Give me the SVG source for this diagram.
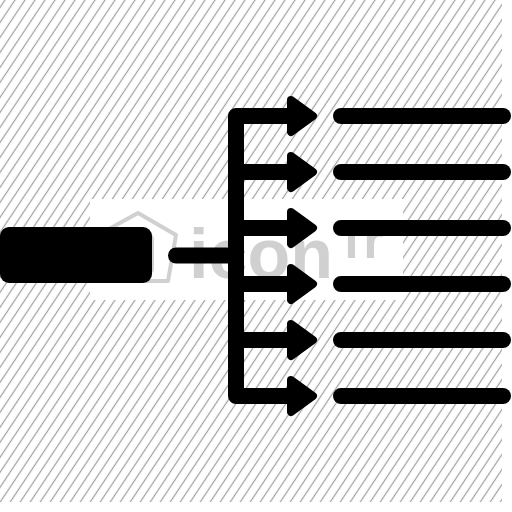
<svg xmlns="http://www.w3.org/2000/svg" width="512" height="512" viewBox="0 0 512 512">
  <defs>
    <pattern id="hatch" patternUnits="userSpaceOnUse" width="8.32" height="10" patternTransform="rotate(33.7)">
      <rect x="0" y="0" width="8.32" height="10" fill="#ffffff"/>
      <line x1="4.16" y1="-1" x2="4.16" y2="11" stroke="#a0a0a0" stroke-width="1.2"/>
    </pattern>
    <marker id="head" viewBox="0 0 40 40" refX="6" refY="20" markerWidth="40" markerHeight="40" markerUnits="userSpaceOnUse" orient="auto" overflow="visible">
      <polygon points="7,4 29,20 7,36" fill="#000" stroke="#000" stroke-width="8" stroke-linejoin="round"/>
    </marker>
  </defs>
  <style>
    .bar { stroke: #000; stroke-width: 16; stroke-linecap: round; fill: none; }
    .conn { stroke: #000; stroke-width: 16; fill: none; stroke-linejoin: round; }
    .wm { fill: #d0d0d0; font-family: "Liberation Sans", Arial, sans-serif; font-weight: bold; }
    .wmline { fill: none; stroke: #d0d0d0; stroke-width: 4; stroke-linejoin: round; }
  </style>
  <rect x="0" y="0" width="502" height="502" fill="url(#hatch)"/>
  <rect x="90" y="199" width="313" height="101" fill="#ffffff"/>
  <g id="watermark">
    <polygon class="wmline" points="138,213 176,235 168,281 106,281 98,235"/>
    <rect class="wmline" x="116" y="236" width="36" height="36" rx="3"/>
    <circle class="wmline" cx="134" cy="254" r="8"/>
    <text class="wm" x="189" y="278" font-size="70">icon</text>
    <text class="wm" x="343" y="258" font-size="52" letter-spacing="3">fr</text>
  </g>
  <g id="source">
    <rect x="0" y="227" width="152" height="56" rx="9" fill="#000"/>
  </g>
  <g id="connectors">
    <line class="conn" x1="176" y1="255.5" x2="236" y2="255.5" stroke-linecap="round"/>
    <path class="conn" d="M290 116 H236 V396 H290" marker-end="url(#head)"/>
    <path class="conn" d="M236 116 H290" marker-end="url(#head)"/>
    <path class="conn" d="M236 172 H290" marker-end="url(#head)"/>
    <path class="conn" d="M236 228 H290" marker-end="url(#head)"/>
    <path class="conn" d="M236 284 H290" marker-end="url(#head)"/>
    <path class="conn" d="M236 340 H290" marker-end="url(#head)"/>
  </g>
  <g id="target1"><line class="bar" x1="341" y1="116" x2="503" y2="116"/></g>
  <g id="target2"><line class="bar" x1="341" y1="172" x2="503" y2="172"/></g>
  <g id="target3"><line class="bar" x1="341" y1="228" x2="503" y2="228"/></g>
  <g id="target4"><line class="bar" x1="341" y1="284" x2="503" y2="284"/></g>
  <g id="target5"><line class="bar" x1="341" y1="340" x2="503" y2="340"/></g>
  <g id="target6"><line class="bar" x1="341" y1="396" x2="503" y2="396"/></g>
</svg>
